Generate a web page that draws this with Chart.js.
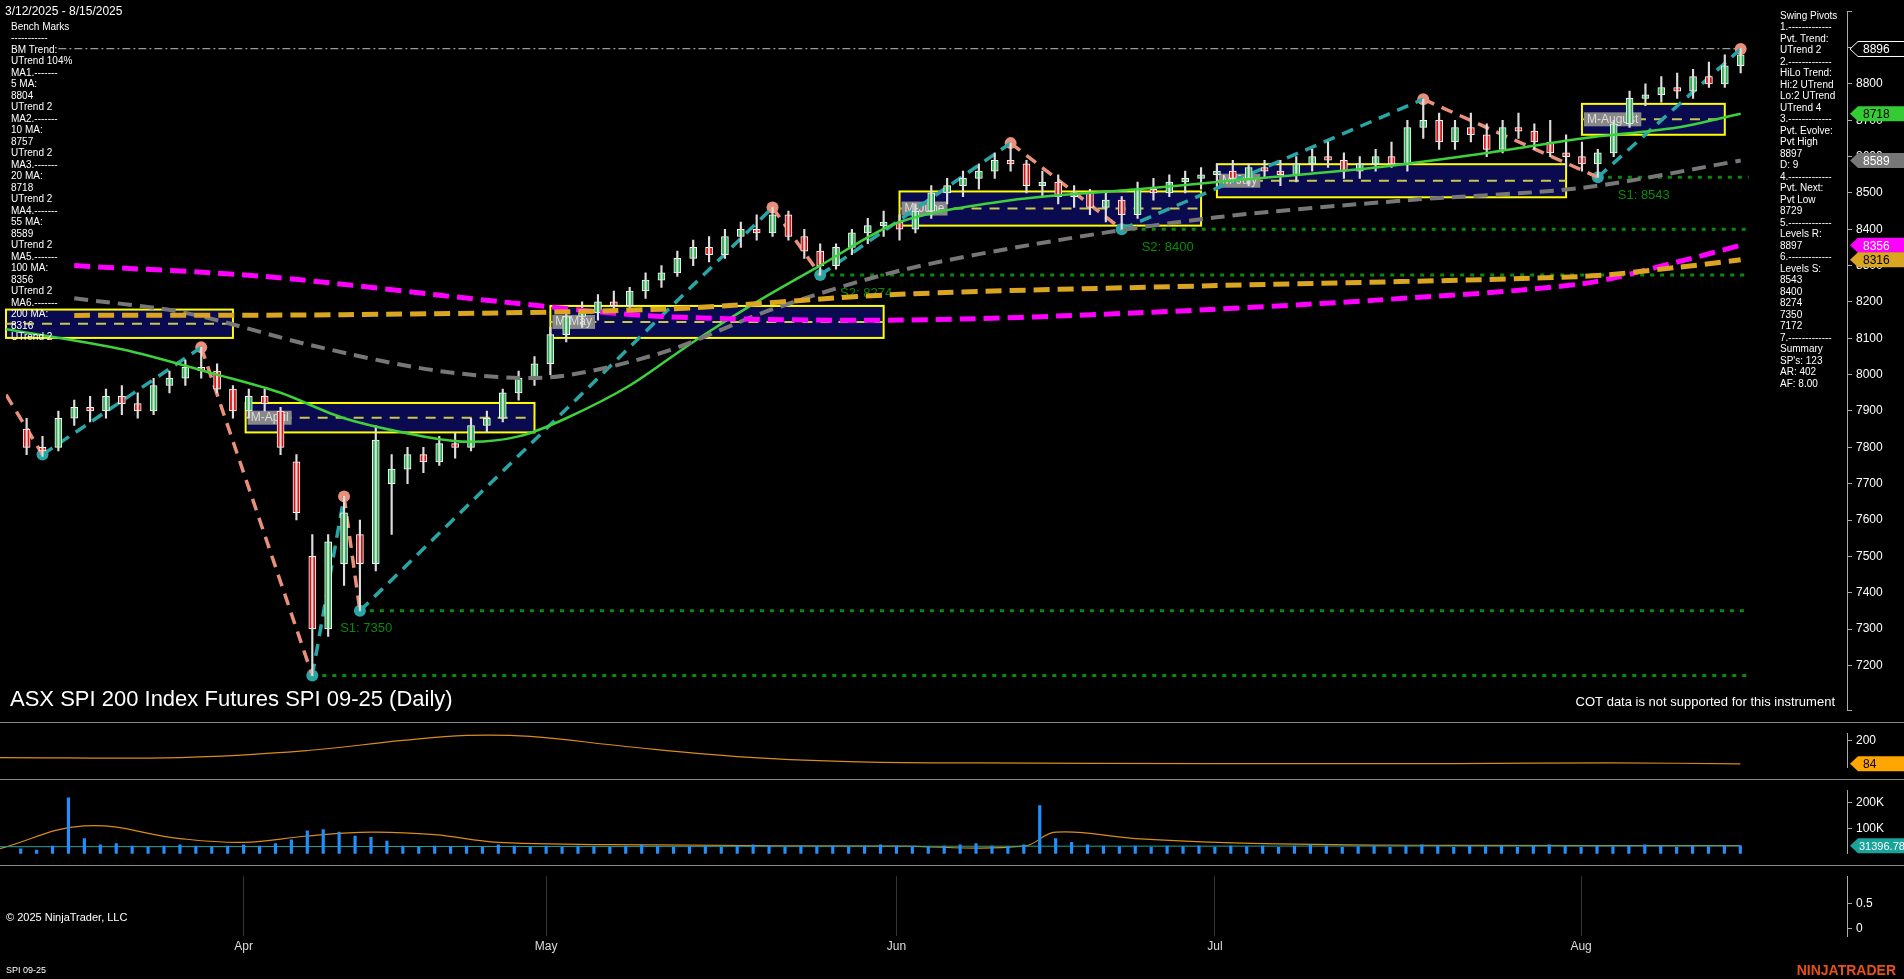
<!DOCTYPE html>
<html><head><meta charset="utf-8">
<script src="https://cdn.jsdelivr.net/npm/chart.js@4.4.1/dist/chart.umd.min.js"></script>
<style>
html,body{margin:0;padding:0;background:#000;overflow:hidden;width:1904px;height:979px}
.p{position:absolute;left:0;width:1904px}
</style></head><body>
<div class="p" style="top:0;height:722px"><canvas id="c1"></canvas></div>
<div class="p" style="top:722px;height:57px"><canvas id="c2"></canvas></div>
<div class="p" style="top:779px;height:86px"><canvas id="c3"></canvas></div>
<div class="p" style="top:865px;height:114px"><canvas id="c4"></canvas></div>
<script>
// ---------- DATA ----------
const monthTicks = [14, 33, 55, 75, 98];
const monthLabels = ['Apr', 'May', 'Jun', 'Jul', 'Aug'];
const opens  = [7850,7800,7800,7880,7910,7900,7940,7920,7900,7970,7990,8020,8010,7960,7900,7940,7900,7760,7500,7300,7480,7560,7480,7700,7740,7780,7760,7810,7800,7860,7880,7950,7990,8030,8110,8160,8170,8200,8190,8230,8260,8280,8320,8350,8330,8380,8400,8390,8440,8380,8340,8300,8350,8390,8410,8420,8400,8450,8500,8520,8540,8560,8590,8580,8520,8530,8490,8500,8460,8480,8440,8510,8500,8530,8540,8550,8560,8540,8570,8560,8550,8580,8600,8590,8560,8580,8600,8580,8680,8700,8640,8680,8660,8620,8680,8670,8640,8610,8600,8580,8610,8690,8760,8770,8790,8780,8820,8800,8850];
const highs  = [7880,7830,7900,7930,7940,7960,7970,7950,7990,8010,8040,8075,8030,7970,7960,7960,7910,7780,7560,7560,7665,7600,7860,7780,7800,7800,7830,7840,7880,7900,7960,8010,8050,8130,8180,8200,8220,8230,8240,8280,8300,8340,8370,8380,8400,8420,8440,8460,8450,8400,8360,8360,8400,8430,8450,8440,8470,8520,8540,8560,8580,8610,8637,8590,8560,8550,8520,8510,8500,8490,8530,8540,8550,8560,8570,8580,8590,8580,8590,8590,8600,8620,8640,8610,8600,8620,8640,8700,8758,8720,8700,8720,8690,8700,8720,8690,8700,8660,8640,8620,8700,8780,8800,8820,8830,8840,8860,8880,8897];
const lows   = [7780,7775,7790,7860,7870,7880,7890,7880,7890,7950,7970,7990,7950,7880,7880,7900,7780,7600,7172,7280,7420,7350,7460,7560,7700,7730,7750,7770,7790,7840,7870,7930,7970,8000,8090,8130,8150,8170,8170,8210,8240,8270,8300,8310,8320,8350,8370,8380,8370,8320,8274,8290,8330,8360,8380,8370,8390,8430,8470,8490,8510,8540,8560,8500,8490,8470,8460,8440,8420,8400,8430,8480,8490,8500,8510,8520,8530,8520,8540,8520,8530,8560,8570,8540,8540,8560,8570,8560,8650,8620,8620,8640,8600,8610,8650,8620,8600,8570,8560,8543,8600,8680,8740,8750,8760,8760,8790,8790,8830];
const closes = [7800,7790,7880,7910,7900,7940,7920,7900,7970,7990,8020,8010,7960,7900,7940,7920,7800,7620,7300,7540,7620,7480,7820,7740,7780,7760,7810,7800,7860,7880,7950,7990,8030,8110,8160,8170,8200,8190,8230,8260,8280,8320,8350,8330,8380,8400,8390,8440,8380,8340,8300,8350,8390,8410,8420,8400,8450,8500,8520,8540,8560,8590,8580,8520,8530,8490,8500,8460,8480,8440,8510,8500,8530,8540,8550,8560,8540,8570,8560,8550,8580,8600,8590,8560,8580,8600,8580,8680,8700,8640,8680,8660,8620,8680,8670,8640,8610,8600,8580,8610,8690,8760,8770,8790,8780,8820,8800,8850,8880];
const ma20  = [[-1.3,8125],[6,8070],[12,8000],[16,7950],[20,7880],[25,7830],[28,7815],[31,7830],[34,7880],[38,7970],[42,8090],[46,8200],[50,8300],[55,8420],[62,8480],[70,8510],[75,8530],[85,8570],[92,8610],[98,8650],[104,8680],[108,8718]];
const ma55  = [[3,8210],[10,8170],[18,8080],[26,8010],[33,7993],[40,8060],[47,8180],[55,8286],[65,8370],[75,8433],[87,8480],[98,8514],[108,8589]];
const ma100 = [[3,8300],[15,8270],[30,8200],[40,8160],[55,8150],[70,8170],[85,8205],[98,8250],[104,8310],[108,8356]];
const ma200 = [[3,8163],[20,8165],[40,8180],[55,8221],[75,8245],[98,8270],[104,8295],[108,8316]];
const swings = [[-1.3,7945],[1,7780],[11,8075],[18,7172],[20,7665],[21,7350],[47,8460],[50,8274],[62,8637],[69,8400],[88,8758],[99,8543],[108,8896]];
const supportLevels = [[99,8543],[69,8400],[50,8274],[21,7350],[18,7172]];
const resistance = 8897;
const monthBoxes = [['',-1.3,13,8179,8101],['M-April',13.8,32,7922,7841],['M-May',33,54,8189,8101],['M-June',55,74,8504,8410],['M-July',75,97,8579,8488],['M-August',98,107,8745,8660]];
const osc = [[-1.3,115],[10,115],[18,150],[24,200],[28,225],[32,220],[38,170],[45,120],[52,95],[60,88],[75,85],[90,85],[100,88],[108,84]];
const volumes = [20,15,30,220,60,35,40,30,25,30,35,30,25,30,35,30,40,55,90,95,85,70,65,50,30,25,30,28,30,25,35,30,25,30,25,30,28,25,30,35,30,25,28,30,25,30,35,30,25,30,28,30,25,30,35,30,28,25,30,35,40,30,28,35,190,60,45,35,30,28,30,25,30,28,30,25,30,28,30,25,30,35,30,25,28,30,25,30,35,30,25,30,28,30,25,30,35,30,25,30,28,30,35,30,25,30,28,30,31];
const volAvg = [[-1.3,20],[4,110],[10,60],[14,45],[18,70],[22,85],[26,75],[30,45],[40,35],[55,30],[63,30],[65,85],[70,60],[78,40],[90,33],[108,32]];
const volBase = [[-1.3,28],[108,31]];
const leftText = ['Bench Marks','-----------','BM Trend:','UTrend 104%','MA1.-------','5 MA:','8804','UTrend 2','MA2.-------','10 MA:','8757','UTrend 2','MA3.-------','20 MA:','8718','UTrend 2','MA4.-------','55 MA:','8589','UTrend 2','MA5.-------','100 MA:','8356','UTrend 2','MA6.-------','200 MA:','8316','UTrend 2'];
const rightText = ['Swing Pivots','1.-------------','Pvt. Trend:','UTrend 2','2.-------------','HiLo Trend:','Hi:2 UTrend','Lo:2 UTrend','UTrend 4','3.-------------','Pvt. Evolve:','Pvt High','8897','D: 9','4.-------------','Pvt. Next:','Pvt Low','8729','5.-------------','Levels R:','8897','6.-------------','Levels S:','8543','8400','8274','7350','7172','7.-------------','Summary','SP\'s: 123','AR: 402','AF: 8.00'];

// ---------- HELPERS ----------
const F = '"Liberation Sans", Arial, sans-serif';
const XMIN = -1.3, XMAX = 114.7;
const pts = a => a.map(p => ({x:p[0], y:p[1]}));
function xScale(show){
  return {type:'linear', min:XMIN, max:XMAX, display:show, offset:false,
    afterBuildTicks:s=>{s.ticks = monthTicks.map(v=>({value:v}));},
    ticks:{color:'#ddd', font:{family:F,size:12}, maxRotation:0, autoSkip:false, callback:v=>monthLabels[monthTicks.indexOf(v)]||''},
    grid:{color:'#2a2a2a', drawTicks:false, offset:false}, border:{display:false}};
}
function yScale(min,max,step,cb,grid){
  return {position:'right', min, max, afterFit:s=>{s.width=57;},
    ticks:{color:'#fff', font:{family:F,size:12}, stepSize:step, callback:cb, padding:4},
    grid:{display:true, drawOnChartArea:!!grid, color:'#2a2a2a', tickLength:5, tickColor:'#aaa'},
    border:{display:true,color:'#aaa'}};
}
function flag(ctx, area, y, text, bg, fg, border){
  const x0 = area.right+3, w=55, h=15;
  ctx.save();
  ctx.beginPath(); ctx.moveTo(x0,y); ctx.lineTo(x0+8,y-h/2); ctx.lineTo(x0+w,y-h/2); ctx.lineTo(x0+w,y+h/2); ctx.lineTo(x0+8,y+h/2); ctx.closePath();
  ctx.fillStyle=bg; ctx.fill(); if(border){ctx.strokeStyle=border;ctx.lineWidth=1;ctx.stroke();}
  ctx.fillStyle=fg; ctx.font=(text.length>5?'11px ':'12px ')+F; ctx.textBaseline='middle'; ctx.textAlign='left';
  ctx.fillText(text, x0+(text.length>5?9:13), y+1); ctx.restore();
}
const base = {responsive:true, maintainAspectRatio:false, animation:false, layout:{padding:0},
  plugins:{legend:{display:false}, tooltip:{enabled:false}}};

// ---------- MAIN ----------
const up = closes.map((c,i)=>c>=opens[i]);
const mainPlugin = {id:'main',
  beforeDatasetsDraw(ch){
    const {ctx, chartArea:a, scales:{x,y}} = ch;
    ctx.save();
    monthBoxes.forEach(b=>{
      const x1=x.getPixelForValue(b[1]), x2=x.getPixelForValue(b[2]), y1=y.getPixelForValue(b[3]), y2=y.getPixelForValue(b[4]);
      ctx.fillStyle='#0a0a50'; ctx.fillRect(x1,y1,x2-x1,y2-y1);
      ctx.strokeStyle='#ffff00'; ctx.lineWidth=2; ctx.setLineDash([]); ctx.strokeRect(x1,y1,x2-x1,y2-y1);
      ctx.strokeStyle='#c8c850'; ctx.lineWidth=2; ctx.setLineDash([10,8]);
      ctx.beginPath(); const ym=(y1+y2)/2; ctx.moveTo(x1,ym); ctx.lineTo(x2,ym); ctx.stroke();
      if(b[0]){ctx.setLineDash([]); ctx.font='12px '+F; const w=ctx.measureText(b[0]).width+6;
        ctx.fillStyle='#888'; ctx.fillRect(x1+2,ym-7,w,14); ctx.fillStyle='#ddd'; ctx.textBaseline='middle'; ctx.fillText(b[0],x1+5,ym);}
    });
    ctx.setLineDash([4,6]); ctx.lineWidth=3; ctx.strokeStyle='#0a8a0a';
    supportLevels.forEach(l=>{const yy=y.getPixelForValue(l[1]); ctx.beginPath(); ctx.moveTo(x.getPixelForValue(l[0]),yy); ctx.lineTo(x.getPixelForValue(108.5),yy); ctx.stroke();});
    ctx.setLineDash([8,3,2,3]); ctx.lineWidth=1.2; ctx.strokeStyle='#999';
    const yr=y.getPixelForValue(resistance); ctx.beginPath(); ctx.moveTo(x.getPixelForValue(2),yr); ctx.lineTo(x.getPixelForValue(108),yr); ctx.stroke();
    ctx.setLineDash([]); ctx.fillStyle='#0a8a0a'; ctx.font='13px '+F; ctx.textBaseline='middle';
    [['S2: 8400',69.5,8400],['S2: 8274',50.5,8274],['S1: 7350',19,7350],['S1: 8543',99.5,8543]].forEach(t=>ctx.fillText(t[0],x.getPixelForValue(t[1])+12,y.getPixelForValue(t[2])+18));
    ctx.restore();
  },
  afterDraw(ch){
    const {ctx, chartArea:a, scales:{x,y}} = ch;
    ctx.save(); ctx.fillStyle='#fff'; ctx.textBaseline='middle';
    ctx.font='12px '+F; ctx.fillText('3/12/2025 - 8/15/2025',5,12);
    ctx.font='10px '+F;
    leftText.forEach((t,i)=>ctx.fillText(t,11,27+i*11.5));
    rightText.forEach((t,i)=>ctx.fillText(t,1780,16+i*11.5));
    ctx.font='22px '+F; ctx.fillText('ASX SPI 200 Index Futures SPI 09-25 (Daily)',10,700);
    ctx.font='13px '+F; ctx.textAlign='right'; ctx.fillText('COT data is not supported for this instrument',1835,702);
    ctx.textAlign='left';
    flag(ctx,a,y.getPixelForValue(8896),'8896','#000','#fff','#fff');
    flag(ctx,a,y.getPixelForValue(8718),'8718','#33cc33','#000');
    flag(ctx,a,y.getPixelForValue(8589),'8589','#777','#fff');
    flag(ctx,a,y.getPixelForValue(8356),'8356','#ff00ff','#fff');
    flag(ctx,a,y.getPixelForValue(8316),'8316','#daa520','#000');
    ctx.restore();
  }};
const swingPts = pts(swings);
new Chart(document.getElementById('c1'), {
  data:{datasets:[
    {type:'line', data:pts(ma200), borderColor:'#daa520', borderWidth:5, borderDash:[16,8], pointRadius:0, tension:0.3},
    {type:'line', data:pts(ma100), borderColor:'#ff00ff', borderWidth:5, borderDash:[16,8], pointRadius:0, tension:0.3},
    {type:'line', data:pts(ma55), borderColor:'#777', borderWidth:4, borderDash:[14,8], pointRadius:0, tension:0.3},
    {type:'line', data:pts(ma20), borderColor:'#3ed13e', borderWidth:2.5, pointRadius:0, tension:0.3},
    {type:'bar', data:closes.map((c,i)=>({x:i,y:[lows[i],highs[i]]})), backgroundColor:'#ddd', barThickness:1.5, grouped:false},
    {type:'bar', data:closes.map((c,i)=>({x:i,y:[Math.min(opens[i],c),Math.max(opens[i],c)+ (opens[i]===c?2:0)]})),
      backgroundColor:up.map(u=>u?'#22b14c':'#e01010'), borderColor:'#fff', borderWidth:1, borderSkipped:false, barThickness:7, grouped:false},
    {type:'line', data:swingPts, borderWidth:3.5, borderDash:[12,8], pointRadius:0, tension:0,
      segment:{borderColor:c=>c.p1.parsed.y>c.p0.parsed.y?'#2aa5a5':'#e8907a'}},
    {type:'scatter', data:swingPts.slice(1), pointRadius:6, pointBackgroundColor:swingPts.slice(1).map((p,i)=>{const prev=swingPts[i];return p.y>prev.y?'#e8907a':'#2aa5a5';}), pointBorderWidth:0},
  ]},
  options:{...base, scales:{x:xScale(false), y:yScale(7075,9000,100,v=>(v>=7100&&v<=8800)?v:'')}},
  plugins:[mainPlugin]
});

// ---------- OSC ----------
new Chart(document.getElementById('c2'), {
  data:{datasets:[{type:'line', data:pts(osc), borderColor:'#d98c1a', borderWidth:1.2, pointRadius:0, tension:0.4}]},
  options:{...base, scales:{x:xScale(false), y:{...yScale(64,236,null,v=>v===200?'200':''), afterBuildTicks:s=>{s.ticks=[{value:200}]}}}},
  plugins:[{id:'o',afterDraw(ch){const c=ch.ctx;c.save();c.strokeStyle='#888';c.beginPath();c.moveTo(0,0.5);c.lineTo(1904,0.5);c.stroke();c.restore();flag(ch.ctx,ch.chartArea,ch.scales.y.getPixelForValue(84),'84','#ffa500','#000');}}]
});

// ---------- VOLUME ----------
new Chart(document.getElementById('c3'), {
  data:{datasets:[
    {type:'bar', data:volumes.map((v,i)=>({x:i,y:v})), backgroundColor:'#1e90ff', barThickness:2.5},
    {type:'line', data:pts(volBase), borderColor:'#1aa39a', borderWidth:1, pointRadius:0},
    {type:'line', data:pts(volAvg), borderColor:'#d98c1a', borderWidth:1.2, pointRadius:0, tension:0.4},
  ]},
  options:{...base, scales:{x:xScale(false), y:{...yScale(0,250,null,v=>v+'K'), afterBuildTicks:s=>{s.ticks=[{value:100},{value:200}]}}}},
  plugins:[{id:'v',afterDraw(ch){const c=ch.ctx;c.save();c.strokeStyle='#888';c.beginPath();c.moveTo(0,0.5);c.lineTo(1904,0.5);c.stroke();c.restore();flag(ch.ctx,ch.chartArea,ch.scales.y.getPixelForValue(31.4),'31396.78','#1aa39a','#fff');}}]
});

// ---------- BOTTOM ----------
new Chart(document.getElementById('c4'), {
  data:{datasets:[{type:'line', data:[], pointRadius:0}]},
  options:{...base, scales:{x:{...xScale(true), afterFit:s=>{s.height=43;}, grid:{color:'#333', drawTicks:false}},
    y:{...yScale(-0.15,1.05,null,v=>v===0?'0':(v===0.5?'0.5':'')), afterBuildTicks:s=>{s.ticks=[{value:0},{value:0.5}]}}}},
  plugins:[{id:'b',afterDraw(ch){const c=ch.ctx;c.save();c.strokeStyle='#888';c.beginPath();c.moveTo(0,0.5);c.lineTo(1904,0.5);c.stroke();
    c.fillStyle='#fff';c.font='11px '+F;c.textBaseline='middle';c.fillText('© 2025 NinjaTrader, LLC',6,53);
    c.font='9px '+F;c.fillText('SPI 09-25',6,106);
    c.fillStyle='#e8501a';c.font='bold 14px '+F;c.textAlign='right';c.fillText('NINJATRADER',1896,106);c.restore();}}]
});
</script></body></html>
